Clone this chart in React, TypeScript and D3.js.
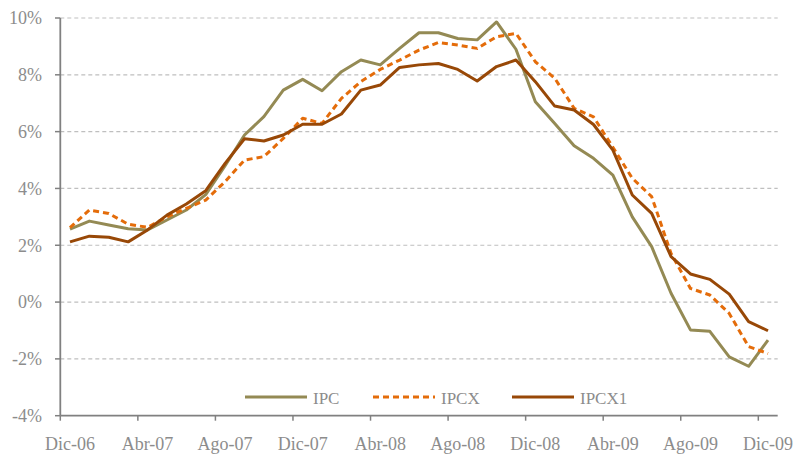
import React from "react"
import * as d3 from "d3"

const width = 796
const height = 454

const months = [
  "Dic-06", "Ene-07", "Feb-07", "Mar-07", "Abr-07", "May-07", "Jun-07", "Jul-07", "Ago-07",
  "Sep-07", "Oct-07", "Nov-07", "Dic-07", "Ene-08", "Feb-08", "Mar-08", "Abr-08", "May-08",
  "Jun-08", "Jul-08", "Ago-08", "Sep-08", "Oct-08", "Nov-08", "Dic-08", "Ene-09", "Feb-09",
  "Mar-09", "Abr-09", "May-09", "Jun-09", "Jul-09", "Ago-09", "Sep-09", "Oct-09", "Nov-09",
  "Dic-09",
]

const ipc = [
  2.57, 2.85, 2.71, 2.58, 2.54, 2.89, 3.24, 3.78, 4.8, 5.88, 6.53, 7.46, 7.84, 7.44, 8.11,
  8.52, 8.35, 8.93, 9.48, 9.48, 9.28, 9.23, 9.86, 8.9, 7.05, 6.29, 5.5, 5.06, 4.47, 3.0,
  1.95, 0.31, -0.98, -1.03, -1.93, -2.26, -1.34,
]
const ipcx = [
  2.62, 3.24, 3.12, 2.74, 2.63, 3.0, 3.3, 3.59, 4.24, 5.0, 5.12, 5.76, 6.47, 6.29, 7.17,
  7.76, 8.19, 8.52, 8.87, 9.14, 9.05, 8.93, 9.34, 9.46, 8.46, 7.88, 6.82, 6.52, 5.45, 4.36,
  3.71, 1.71, 0.48, 0.25, -0.4, -1.57, -1.81,
]
const ipcx1 = [
  2.12, 2.32, 2.28, 2.12, 2.54, 3.06, 3.45, 3.92, 4.88, 5.75, 5.67, 5.88, 6.26, 6.26, 6.62,
  7.46, 7.64, 8.26, 8.35, 8.4, 8.19, 7.78, 8.29, 8.52, 7.76, 6.9, 6.76, 6.25, 5.35, 3.77,
  3.12, 1.6, 0.99, 0.8, 0.28, -0.69, -1.01,
]

const yTicks = [-4, -2, 0, 2, 4, 6, 8, 10]

const series = [
  { name: "IPC", values: ipc, color: "#948A54", dash: null, legendX: 245 },
  { name: "IPCX", values: ipcx, color: "#E46C0A", dash: "6,4", legendX: 373 },
  { name: "IPCX1", values: ipcx1, color: "#984807", dash: null, legendX: 512 },
]

const font = "'Liberation Serif', serif"
const textColor = "#8C8C8C"
const axisColor = "#808080"

export default function App() {
  const x = d3.scaleBand().domain(months).range([60.3, 777.7]).padding(0)
  const y = d3.scaleLinear().domain([-4, 10]).range([415.7, 18])
  const cx = (m: string) => (x(m) as number) + x.bandwidth() / 2

  const line = d3
    .line<number>()
    .x((_, i) => cx(months[i]))
    .y(d => y(d))

  const tickMonths = months.filter((_, i) => i % 4 === 0)

  return (
    <svg
      width={width}
      height={height}
      style={{ position: "absolute", left: 0, top: 0, background: "#fff" }}
    >
      {/* grid */}
      {yTicks.filter(t => t !== -4).map(t => (
        <line
          key={"g" + t}
          x1={x.range()[0]}
          x2={x.range()[1]}
          y1={y(t)}
          y2={y(t)}
          stroke="#BFBFBF"
          strokeWidth={1.2}
          strokeDasharray="4,3"
        />
      ))}

      {/* y axis */}
      <line x1={60.3} x2={60.3} y1={y(10)} y2={y(-4)} stroke={axisColor} strokeWidth={1.8} />
      {yTicks.map(t => (
        <g key={"y" + t}>
          <line x1={55} x2={60.3} y1={y(t)} y2={y(t)} stroke={axisColor} strokeWidth={1.5} />
          <text
            x={42}
            y={y(t)}
            dy="0.35em"
            textAnchor="end"
            fontFamily={font}
            fontSize={18}
            fill={textColor}
          >
            {t}%
          </text>
        </g>
      ))}

      {/* x axis */}
      <line x1={x.range()[0]} x2={x.range()[1]} y1={y(-4)} y2={y(-4)} stroke={axisColor} strokeWidth={1.8} />
      {tickMonths.map(m => (
        <g key={m}>
          <line
            x1={x(m) as number}
            x2={x(m) as number}
            y1={y(-4)}
            y2={y(-4) + 5}
            stroke={axisColor}
            strokeWidth={1.5}
          />
          <text
            x={cx(m)}
            y={450}
            textAnchor="middle"
            fontFamily={font}
            fontSize={18}
            fill={textColor}
          >
            {m}
          </text>
        </g>
      ))}

      {/* series */}
      {series.map(s => (
        <path
          key={s.name}
          d={line(s.values) as string}
          fill="none"
          stroke={s.color}
          strokeWidth={3}
          strokeDasharray={s.dash || undefined}
          strokeLinejoin="round"
        />
      ))}

      {/* legend */}
      {series.map(s => (
        <g key={"l" + s.name}>
          <line
            x1={s.legendX}
            x2={s.legendX + 62}
            y1={397}
            y2={397}
            stroke={s.color}
            strokeWidth={3}
            strokeDasharray={s.dash || undefined}
          />
          <text x={s.legendX + 68} y={404} fontFamily={font} fontSize={17} fill={textColor}>
            {s.name}
          </text>
        </g>
      ))}
    </svg>
  )
}
